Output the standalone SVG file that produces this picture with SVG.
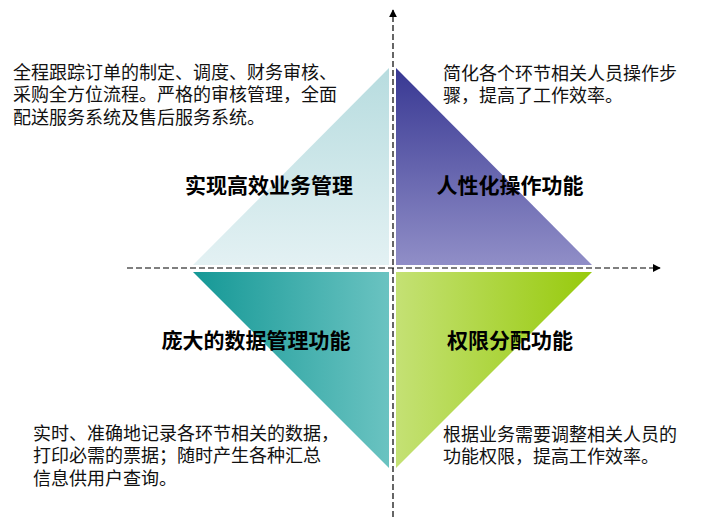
<svg xmlns="http://www.w3.org/2000/svg" width="714" height="517" viewBox="0 0 714 517">
<style>
.t{font-family:"Liberation Sans","Noto Sans CJK SC",sans-serif;font-size:18px;fill:#111}
.h{font-family:"Liberation Sans","Noto Sans CJK SC",sans-serif;font-size:21px;font-weight:bold;fill:#000;text-anchor:middle}
.ax{stroke:#000;stroke-width:1.2;stroke-dasharray:6 3;fill:none}
</style>
<defs>
<linearGradient id="gTL" x1="0" y1="0" x2="0" y2="1"><stop offset="0" stop-color="#b7dcdf"/><stop offset="1" stop-color="#e3f1f3"/></linearGradient>
<linearGradient id="gTR" x1="0" y1="0" x2="0" y2="1"><stop offset="0" stop-color="#383893"/><stop offset="1" stop-color="#908ec7"/></linearGradient>
<linearGradient id="gBL" x1="0" y1="0" x2="1" y2="0"><stop offset="0" stop-color="#159896"/><stop offset="1" stop-color="#6ac3c1"/></linearGradient>
<linearGradient id="gBR" x1="0" y1="0" x2="1" y2="0"><stop offset="0" stop-color="#c4e174"/><stop offset="1" stop-color="#97ca0c"/></linearGradient>
<marker id="arr" viewBox="0 0 10 10" refX="9" refY="5" markerWidth="8" markerHeight="8" orient="auto" markerUnits="userSpaceOnUse"><path d="M0,0 L10,5 L0,10 z" fill="#000"/></marker>
</defs>
<g id="node-tl">
<polygon points="193,265 389,68 389,265" fill="url(#gTL)"/>
<text class="h" x="269" y="193">实现高效业务管理</text>
<text class="t"><tspan x="13" y="79">全程跟踪订单的制定、调度、财务审核、</tspan><tspan x="13" y="101">采购全方位流程。严格的审核管理，全面</tspan><tspan x="13" y="124">配送服务系统及售后服务系统。</tspan></text>
</g>
<g id="node-tr">
<polygon points="396,68 396,265 592,265" fill="url(#gTR)"/>
<text class="h" x="510" y="193">人性化操作功能</text>
<text class="t"><tspan x="443" y="80">简化各个环节相关人员操作步</tspan><tspan x="443" y="102">骤，提高了工作效率。</tspan></text>
</g>
<g id="node-bl">
<polygon points="193,272 389,272 389,468" fill="url(#gBL)"/>
<text class="h" x="256" y="348">庞大的数据管理功能</text>
<text class="t"><tspan x="33" y="440">实时、准确地记录各环节相关的数据，</tspan><tspan x="33" y="462">打印必需的票据；随时产生各种汇总</tspan><tspan x="33" y="485">信息供用户查询。</tspan></text>
</g>
<g id="node-br">
<polygon points="396,272 592,272 396,468" fill="url(#gBR)"/>
<text class="h" x="510" y="348">权限分配功能</text>
<text class="t"><tspan x="443" y="441">根据业务需要调整相关人员的</tspan><tspan x="443" y="463">功能权限，提高工作效率。</tspan></text>
</g>
<g id="connectors">
<line class="ax" x1="393" y1="517" x2="393" y2="10" marker-end="url(#arr)"/>
<line class="ax" x1="127" y1="268" x2="660" y2="268" marker-end="url(#arr)"/>
</g>
</svg>
